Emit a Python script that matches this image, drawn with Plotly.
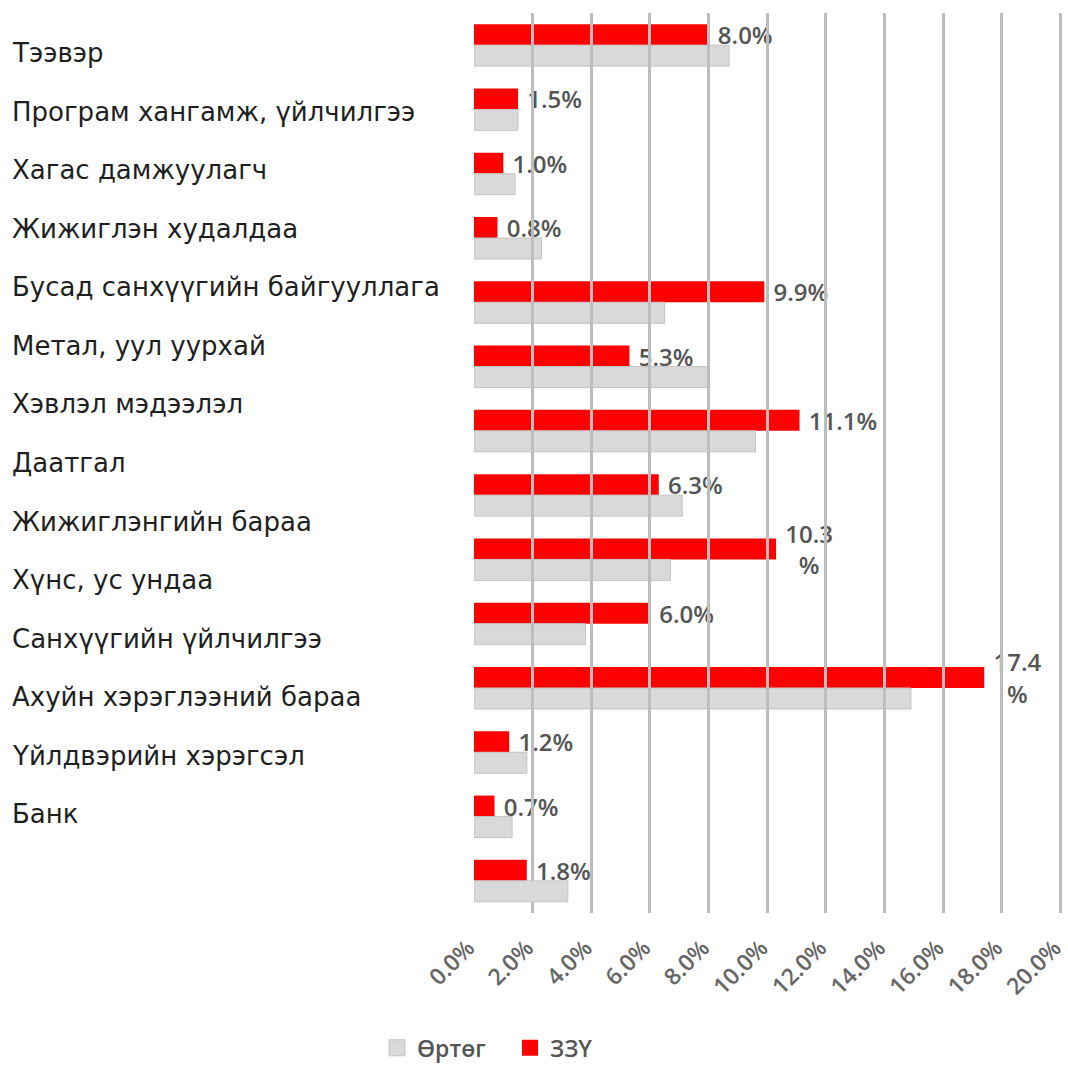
import plotly.graph_objects as go

categories = [
    "Тээвэр",
    "Програм хангамж, үйлчилгээ",
    "Хагас дамжуулагч",
    "Жижиглэн худалдаа",
    "Бусад санхүүгийн байгууллага",
    "Метал, уул уурхай",
    "Хэвлэл мэдээлэл",
    "Даатгал",
    "Жижиглэнгийн бараа",
    "Хүнс, ус ундаа",
    "Санхүүгийн үйлчилгээ",
    "Ахуйн хэрэглээний бараа",
    "Үйлдвэрийн хэрэгсэл",
    "Банк",
]
bar_rows = ["r%d" % i for i in range(len(categories))]

zzu_values = [8.0, 1.5, 1.0, 0.8, 9.9, 5.3, 11.1, 6.3, 10.3, 6.0, 17.4, 1.2, 0.7, 1.8]
zzu_labels = ["8.0%", "1.5%", "1.0%", "0.8%", "9.9%", "5.3%", "11.1%", "6.3%",
              "10.3<br>%", "6.0%", "17.4<br>%", "1.2%", "0.7%", "1.8%"]
urtug_values = [8.7, 1.5, 1.4, 2.3, 6.5, 8.0, 9.6, 7.1, 6.7, 3.8, 14.9, 1.8, 1.3, 3.2]

x_ticks = [0, 2, 4, 6, 8, 10, 12, 14, 16, 18, 20]

RED = "#ff0000"
GREY = "#d9d9d9"
GREY_LINE = "#c4c4c4"

NB = "\u00a0"
fig = go.Figure()
fig.add_trace(go.Bar(
    y=bar_rows, x=zzu_values, orientation="h", name="ЗЗҮ",
    marker=dict(color=RED, line=dict(width=0)),
    text=[NB + t.replace("<br>", "<br>" + NB) for t in zzu_labels],
    textposition="outside", cliponaxis=False, constraintext="none",
    textfont=dict(family="Open Sans", size=24, color="#555555", weight=600),
    showlegend=False, hoverinfo="skip",
))
fig.add_trace(go.Bar(
    y=bar_rows, x=urtug_values, orientation="h", name="Өртөг",
    marker=dict(color=GREY, line=dict(width=1, color=GREY_LINE)),
    showlegend=False, hoverinfo="skip",
))
# legend entries (square swatches)
fig.add_trace(go.Scatter(
    x=[None], y=[None], mode="markers", name="Өртөг",
    marker=dict(symbol="square", size=16, color=GREY, line=dict(width=1, color=GREY_LINE)),
    legendrank=1, hoverinfo="skip",
))
fig.add_trace(go.Scatter(
    x=[None], y=[None], mode="markers", name="ЗЗҮ",
    marker=dict(symbol="square", size=16, color=RED),
    legendrank=2, hoverinfo="skip",
))
# invisible helper trace for the label axis
fig.add_trace(go.Scatter(
    y=categories, x=[0] * len(categories), yaxis="y2", mode="markers",
    marker=dict(opacity=0), showlegend=False, hoverinfo="skip",
))

for c in categories:
    fig.add_annotation(
        x=-0.789, xref="paper", y=c, yref="y2", text=c, showarrow=False,
        xanchor="left", yanchor="middle",
        font=dict(family="DejaVu Sans", size=26, color="#1f1f1f"),
    )

n = len(categories)
fig.update_layout(
    width=1068, height=1066,
    margin=dict(l=474, r=6, t=13, b=153, autoexpand=False),
    paper_bgcolor="white", plot_bgcolor="rgba(0,0,0,0)",
    barmode="group", bargap=0.347, bargroupgap=0,
    xaxis=dict(
        range=[0, 20.05], tickvals=x_ticks,
        ticktext=["%.1f%%" % v for v in x_ticks],
        tickangle=-45, showgrid=True, gridcolor="#bdbdbd", gridwidth=2.5,
        zeroline=False, showline=False, ticks="", ticklabelstandoff=16,
        ticklabelshift=-6,
        ticklabeloverflow="allow", automargin=False,
        tickfont=dict(family="Open Sans", size=23, color="#666666", weight=600),
    ),
    yaxis=dict(
        type="category", categoryorder="array", categoryarray=bar_rows,
        range=[n - 0.5, -0.5], automargin=False,
        showticklabels=False, showgrid=False, zeroline=False, showline=False,
    ),
    yaxis2=dict(
        type="category", categoryorder="array", categoryarray=categories,
        range=[n - 0.5, -0.5], automargin=False,
        domain=[0.0775, 0.9875], anchor="x", visible=False,
    ),
    showlegend=True,
    legend=dict(
        orientation="h", xref="container", yref="container",
        x=0.353, y=0.017, xanchor="left", yanchor="middle",
        font=dict(family="Open Sans", size=23, color="#555555", weight=600),
        itemwidth=30, traceorder="normal", entrywidth=88,
    ),
)

fig.write_html("out.html", config={"displayModeBar": False},
               post_script="document.body.style.margin='0px';")
